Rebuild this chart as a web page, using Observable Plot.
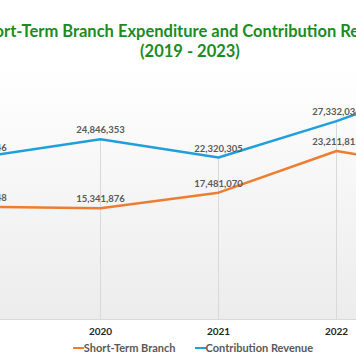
<!DOCTYPE html>
<html>
<head>
<meta charset="utf-8">
<script src="https://cdn.jsdelivr.net/npm/d3@7"></script>
<script src="https://cdn.jsdelivr.net/npm/@observablehq/plot@0.6"></script>
<style>
  html, body { margin: 0; padding: 0; background: #fff; }
  body { width: 356px; height: 364px; overflow: hidden; position: relative; }
  #chart { position: absolute; left: -120px; top: 0; width: 620px; font-family: Lato, "Open Sans", sans-serif; }
  #title { height: 61px; box-sizing: border-box; padding-top: 21px; text-align: center; color: #1b8c1f; font-weight: bold; font-size: 16.5px; line-height: 20px; white-space: nowrap; }
  #legend { display: flex; justify-content: center; gap: 19px; padding-left: 6px; font-size: 11px; font-weight: bold; color: #595959; line-height: 14px; }
  .item { display: flex; align-items: center; }
  .sw { display: inline-block; width: 11px; height: 2.5px; margin-right: 0px; }
</style>
</head>
<body>
<div id="chart">
  <div id="title">Short-Term Branch Expenditure and Contribution Revenue<br>(2019 - 2023)</div>
  <div id="plot"></div>
  <div id="legend"></div>
</div>
<script>
const years = ["2019", "2020", "2021", "2022", "2023"];
const shortTermBranch = [15526148, 15341876, 17481070, 23211815, 20487362];
const contributionRevenue = [22398746, 24846353, 22320305, 27332034, 33214512];
const seriesNames = ["Short-Term Branch", "Contribution Revenue"];
const seriesColors = ["#ED7D31", "#1FA0DD"];

const rows = [];
years.forEach((yr, i) => {
  rows.push({year: yr, value: shortTermBranch[i], series: seriesNames[0]});
  rows.push({year: yr, value: contributionRevenue[i], series: seriesNames[1]});
});
const drops = years.map((yr, i) => ({year: yr, top: Math.max(shortTermBranch[i], contributionRevenue[i])}));
const fmt = d3.format(",");

const chart = Plot.plot({
  width: 620,
  height: 280,
  marginLeft: 101,
  marginRight: 45,
  marginTop: 4,
  marginBottom: 22,
  style: {fontFamily: "Lato, 'Open Sans', sans-serif", background: "transparent"},
  x: {type: "point", domain: years, padding: 0, label: null},
  y: {domain: [0, 35000000], axis: null},
  color: {domain: seriesNames, range: seriesColors},
  marks: [
    Plot.frame({fill: "url(#bgGrad)", stroke: "none"}),
    Plot.ruleX(drops, {x: "year", y1: 0, y2: "top", stroke: "#d9d9d9", strokeWidth: 1}),
    Plot.ruleY([0], {stroke: "#d9d9d9"}),
    Plot.axisX({tickSize: 0, tickPadding: 8, fontSize: 10, fontWeight: "bold", fill: "#262626", label: null}),
    Plot.line(rows, {x: "year", y: "value", z: "series", stroke: "series", strokeWidth: 2.5, curve: "linear"}),
    Plot.text(rows, {x: "year", y: "value", text: d => fmt(d.value), dy: -9, fill: "#595959", fontSize: 9.5, fontWeight: "bold"})
  ]
});

d3.select(chart).insert("defs", ":first-child").html(
  '<linearGradient id="bgGrad" x1="0" y1="0" x2="0" y2="1">' +
  '<stop offset="0" stop-color="#ffffff"/><stop offset="1" stop-color="#ececec"/></linearGradient>'
);
document.getElementById("plot").appendChild(chart);

const legend = d3.select("#legend");
seriesNames.forEach((name, i) => {
  const it = legend.append("div").attr("class", "item");
  it.append("span").attr("class", "sw").style("background", seriesColors[i]);
  it.append("span").text(name);
});
</script>
</body>
</html>
